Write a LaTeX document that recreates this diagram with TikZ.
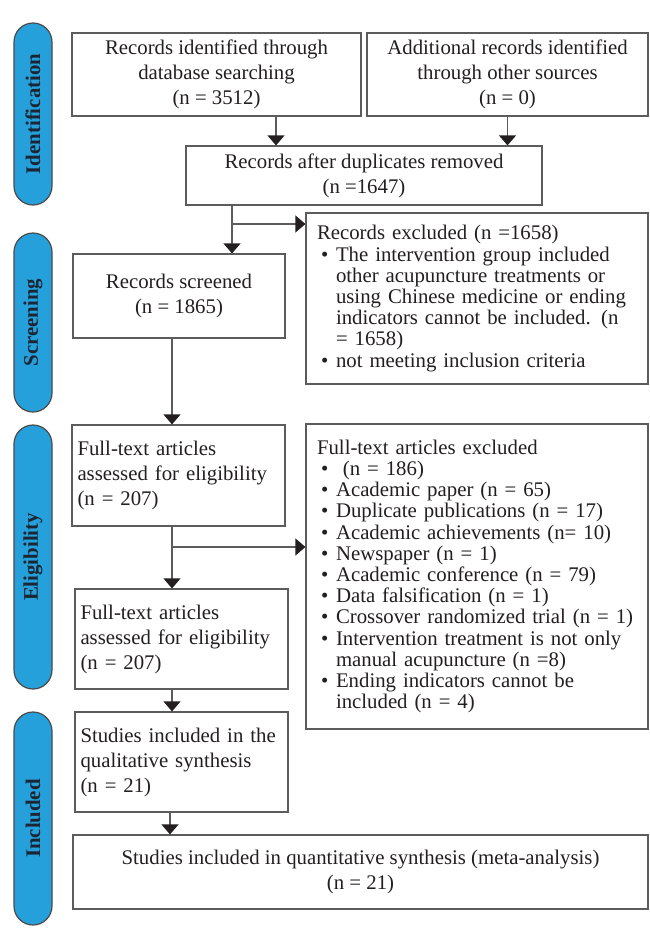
\documentclass[tikz,border=0pt]{standalone}
\usepackage{fontspec}
\setmainfont{Liberation Serif}
\usepackage{xcolor}
\usepackage{tikz}
\usetikzlibrary{positioning, arrows.meta}
\definecolor{stageblue}{HTML}{26A0DA}
\definecolor{stageedge}{HTML}{4A4A4A}
\definecolor{stageink}{HTML}{1A2634}
\definecolor{boxedge}{HTML}{5C5C5C}
\definecolor{inktext}{HTML}{231F20}
\newcommand{\bul}{\makebox[9.5pt][l]{\hspace{2pt}\textbullet}}
\newcommand{\cont}{\hspace*{9.5pt}}

\begin{document}
\begin{tikzpicture}[x=0.5pt, y=-0.5pt,
    stagebox/.style={draw=stageedge, line width=0.6pt, fill=stageblue, rounded corners=9.5pt,
      rotate=90, minimum height=19pt, inner sep=0pt, text=stageink,
      font=\bfseries\fontsize{10.4}{12}\selectfont},
    flowbox/.style={draw=boxedge, line width=0.6pt, fill=white, inner sep=0pt, text=inktext,
      align=center, font=\fontsize{10.4}{12.5}\selectfont,
      execute at begin node=\setlength{\parindent}{0pt}},
    leftbox/.style={flowbox, align=left, text width=101pt},
    listbox/.style={flowbox, align=left, text width=160pt, font=\fontsize{10.4}{10.6}\selectfont},
    link/.style={draw=boxedge, line width=0.6pt},
    arr/.style={link, -{Triangle[width=8.5pt, length=5pt, color=inktext]}}]
  \useasboundingbox (0,0) rectangle (649,943);

  % stage labels
  \node[stagebox, minimum width=91pt] (idstage) at (33,114) {Identification};
  \node[stagebox, minimum width=89.5pt] (scstage) at (33,322.5) {Screening};
  \node[stagebox, minimum width=132pt] (elstage) at (33,557) {Eligibility};
  \node[stagebox, minimum width=106.5pt] (instage) at (33,818.5) {Included};

  % boxes
  \node[flowbox, minimum width=144.5pt, minimum height=41.5pt] (dbrec) at (216.5,74.5)
    {Records identified through\\database searching\\(n = 3512)};
  \node[flowbox, minimum width=140.5pt, minimum height=41.5pt] (othrec) at (507.5,74.5)
    {Additional records identified\\through other sources\\(n = 0)};
  \node[flowbox, minimum width=178pt, minimum height=29.5pt] (dedup) at (364,175.5)
    {Records after duplicates removed\\(n =1647)};
  \node[flowbox, minimum width=106pt, minimum height=42pt] (screen) at (179,296)
    {Records screened\\(n = 1865)};
  \node[listbox, minimum width=171pt, minimum height=85.5pt] (scrExcl) at (477,298.5)
    {Records excluded (n =1658)\\
     \bul The intervention group included\\
     \cont other acupuncture treatments or\\
     \cont using Chinese medicine or ending\\
     \cont indicators cannot be included. (n\\
     \cont = 1658)\\
     \bul not meeting inclusion criteria};
  \node[leftbox, minimum width=106.5pt, minimum height=50.5pt] (fulltext) at (178.5,475.5)
    {Full-text articles\\assessed for eligibility\\(n = 207)};
  \node[listbox, minimum width=171pt, minimum height=152.5pt] (ftExcl) at (477,576.5)
    {Full-text articles excluded\\
     \bul\ (n = 186)\\
     \bul Academic paper (n = 65)\\
     \bul Duplicate publications (n = 17)\\
     \bul Academic achievements (n= 10)\\
     \bul Newspaper (n = 1)\\
     \bul Academic conference (n = 79)\\
     \bul Data falsification (n = 1)\\
     \bul Crossover randomized trial (n = 1)\\
     \bul Intervention treatment is not only\\
     \cont manual acupuncture (n =8)\\
     \bul Ending indicators cannot be\\
     \cont included (n = 4)};
  \node[leftbox, minimum width=106.5pt, minimum height=50pt] (fulltext2) at (181.5,639)
    {Full-text articles\\assessed for eligibility\\(n = 207)};
  \node[leftbox, minimum width=106.5pt, minimum height=50pt] (qualsyn) at (181.5,762)
    {Studies included in the\\qualitative synthesis\\(n = 21)};
  \node[flowbox, minimum width=287.5pt, minimum height=37pt] (quantsyn) at (360.5,872)
    {Studies included in quantitative synthesis (meta-analysis)\\(n = 21)};

  % connectors
  \coordinate (dbx) at (276,0);
  \coordinate (splitA) at (232,224);
  \coordinate (splitB) at (172,547);
  \coordinate (qualx) at (170,0);
  \draw[arr] (dbrec.south -| dbx) -- (dedup.north -| dbx);
  \draw[arr] (othrec.south) -- (othrec.south |- dedup.north);
  \draw[link] (dedup.south -| splitA) -- (splitA);
  \draw[arr] (splitA) -- (screen.north -| splitA);
  \draw[arr] (splitA) -- (scrExcl.west |- splitA);
  \draw[arr] (screen.south -| splitB) -- (fulltext.north -| splitB);
  \draw[link] (fulltext.south -| splitB) -- (splitB);
  \draw[arr] (splitB) -- (fulltext2.north -| splitB);
  \draw[arr] (splitB) -- (ftExcl.west |- splitB);
  \draw[arr] (fulltext2.south -| splitB) -- (qualsyn.north -| splitB);
  \draw[arr] (qualsyn.south -| qualx) -- (quantsyn.north -| qualx);
\end{tikzpicture}
\end{document}
